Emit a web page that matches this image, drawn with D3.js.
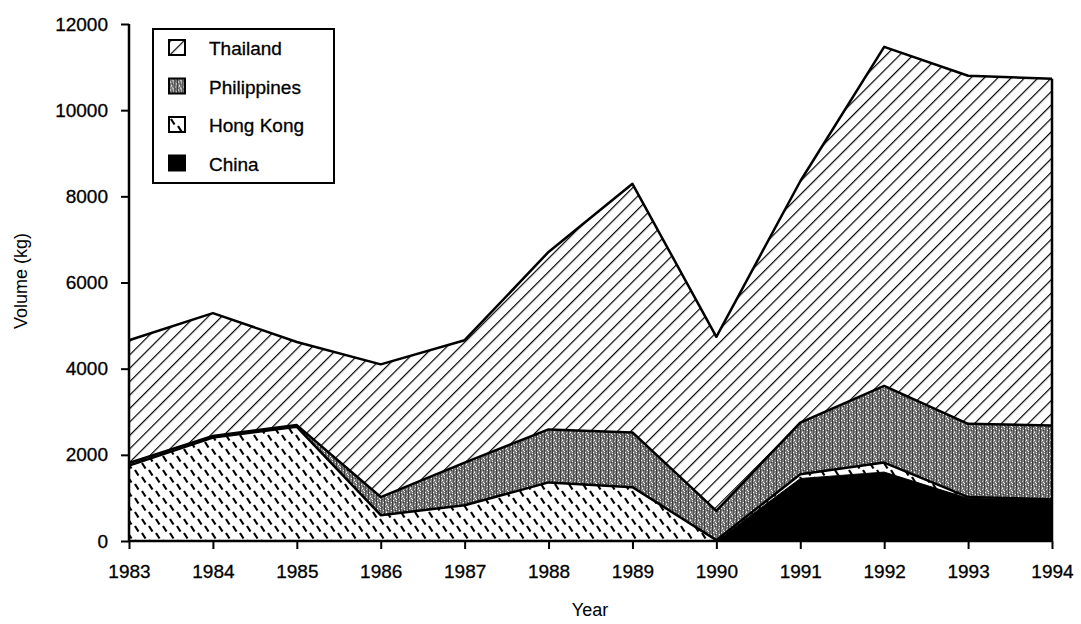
<!DOCTYPE html>
<html lang="en">
<head>
    <meta charset="UTF-8">
    <title>Volume by origin, 1983-1994</title>
    <script src="https://d3js.org/d3.v7.min.js"></script>
    <style>
        body { margin: 0; background: #fff; }
        text { font-family: "Liberation Sans", Arial, sans-serif; fill: #000; }
        .tick text, .legend text { font-size: 19px; stroke: #000; stroke-width: 0.3px; }
        .title { font-size: 18px; }
    </style>
</head>
<body>
    <svg id="chart"></svg>

    <script>
        // values (kg)
        const years = [1983, 1984, 1985, 1986, 1987, 1988, 1989, 1990, 1991, 1992, 1993, 1994];
        const china = [0, 0, 0, 0, 0, 0, 0, 0, 1450, 1600, 990, 950];
        const hongKong = [1750, 2400, 2650, 600, 830, 1360, 1250, 20, 100, 220, 30, 20];
        const philippines = [60, 40, 40, 420, 990, 1230, 1270, 680, 1200, 1780, 1700, 1710];
        const thailand = [2850, 2850, 1930, 3080, 2840, 4120, 5770, 4040, 5600, 7870, 8080, 8050];
        const yTicks = [0, 2000, 4000, 6000, 8000, 10000, 12000];

        const series = ["China", "Hong Kong", "Philippines", "Thailand"];
        const rows = years.map((y, i) => ({
            year: y, "China": china[i], "Hong Kong": hongKong[i],
            "Philippines": philippines[i], "Thailand": thailand[i]
        }));

        const width = 1081, height = 624;
        const svg = d3.select("#chart").attr("width", width).attr("height", height);
        const defs = svg.append("defs");

        // Thailand: diagonal hatching
        const pThai = defs.append("pattern").attr("id", "p-thai")
            .attr("patternUnits", "userSpaceOnUse").attr("width", 9.5).attr("height", 10)
            .attr("patternTransform", "rotate(45)");
        pThai.append("rect").attr("width", 9.5).attr("height", 10).attr("fill", "#fff");
        pThai.append("line").attr("x1", 0).attr("y1", 0).attr("x2", 0).attr("y2", 10)
            .attr("stroke", "#000").attr("stroke-width", 2.4);

        // Philippines: grey stipple with faint vertical streaks
        const pPhil = defs.append("pattern").attr("id", "p-phil")
            .attr("patternUnits", "userSpaceOnUse").attr("width", 8).attr("height", 8);
        pPhil.append("rect").attr("width", 8).attr("height", 8).attr("fill", "#7a7a7a");
        pPhil.append("rect").attr("x", 0).attr("width", 1).attr("height", 8).attr("fill", "#3c3c3c");
        pPhil.append("rect").attr("x", 5).attr("width", 1).attr("height", 8).attr("fill", "#555");
        [[2, 0, "#fff"], [3, 2, "#eee"], [6, 1, "#ccc"], [1, 4, "#fff"], [4, 5, "#ddd"], [7, 6, "#fff"],
         [2, 7, "#bbb"], [6, 3, "#444"], [3, 6, "#333"], [7, 0, "#999"], [4, 3, "#fff"], [1, 1, "#aaa"]]
            .forEach(([x, y, c]) => pPhil.append("rect").attr("x", x).attr("y", y)
                .attr("width", 1).attr("height", 1).attr("fill", c));

        // Hong Kong: short dashes in a lattice
        const pHK = defs.append("pattern").attr("id", "p-hk")
            .attr("patternUnits", "userSpaceOnUse").attr("width", 14).attr("height", 14);
        pHK.append("rect").attr("width", 14).attr("height", 14).attr("fill", "#fff");
        pHK.append("line").attr("x1", 2).attr("y1", 1).attr("x2", 5.5).attr("y2", 6.5)
            .attr("stroke", "#000").attr("stroke-width", 2.2);
        pHK.append("line").attr("x1", 9).attr("y1", 8).attr("x2", 12.5).attr("y2", 13.5)
            .attr("stroke", "#000").attr("stroke-width", 2.2);

        const fills = { "China": "#000", "Hong Kong": "url(#p-hk)", "Philippines": "url(#p-phil)", "Thailand": "url(#p-thai)" };

        const x = d3.scaleLinear().domain([1983, 1994]).range([129, 1052]);
        const y = d3.scaleLinear().domain([0, 12000]).range([541, 24]);

        const stacked = d3.stack().keys(series)(rows);
        const area = d3.area().x(d => x(d.data.year)).y0(d => y(d[0])).y1(d => y(d[1]));
        const topLine = d3.line().x(d => x(d.data.year)).y(d => y(d[1]));

        svg.append("g").selectAll("path").data(stacked).join("path")
            .attr("d", area).attr("fill", d => fills[d.key]);

        svg.append("g").selectAll("path").data(stacked).join("path")
            .attr("d", topLine).attr("fill", "none").attr("stroke", "#000")
            .attr("stroke-width", d => d.key === "China" ? 1 : 2.5)
            .attr("stroke-linejoin", "round");

        // right edge of the filled block
        svg.append("line").attr("x1", x(1994)).attr("x2", x(1994))
            .attr("y1", y(0)).attr("y2", y(d3.sum(series, k => rows[rows.length - 1][k])))
            .attr("stroke", "#000").attr("stroke-width", 2.5);

        // axes
        const xAxis = svg.append("g").attr("transform", `translate(0,${y(0)})`)
            .call(d3.axisBottom(x).tickValues(years).tickFormat(d3.format("d")).tickSize(8).tickPadding(16));
        const yAxis = svg.append("g").attr("transform", `translate(${x(1983)},0)`)
            .call(d3.axisLeft(y).tickValues(yTicks).tickSize(8).tickPadding(13).tickFormat(d3.format("d")));
        [xAxis, yAxis].forEach(g => {
            g.select(".domain").attr("stroke-width", 2.5);
            g.selectAll(".tick line").attr("stroke-width", 2);
            g.selectAll(".tick text").attr("font-family", null).attr("font-size", null);
        });
        xAxis.select(".domain").attr("d", `M${x(1983)},0H${x(1994)}`);
        yAxis.select(".domain").attr("d", `M0,${y(0)}V${y(12000)}`);

        svg.append("text").attr("class", "title").attr("x", 590).attr("y", 616)
            .attr("text-anchor", "middle").text("Year");
        svg.append("text").attr("class", "title").attr("transform", "translate(27,281) rotate(-90)")
            .attr("text-anchor", "middle").text("Volume (kg)");

        // legend
        const legend = svg.append("g").attr("class", "legend");
        legend.append("rect").attr("x", 153).attr("y", 29).attr("width", 181).attr("height", 154)
            .attr("fill", "#fff").attr("stroke", "#000").attr("stroke-width", 2);
        const legendOrder = ["Thailand", "Philippines", "Hong Kong", "China"];
        const item = legend.selectAll("g.item").data(legendOrder).join("g")
            .attr("class", "item").attr("transform", (d, i) => `translate(169,${55 + i * 38.5})`);
        item.append("rect").attr("y", -15).attr("width", 16).attr("height", 15)
            .attr("fill", d => fills[d]).attr("stroke", "#000").attr("stroke-width", 2);
        item.append("text").attr("x", 40).attr("y", 0).text(d => d);
    </script>
</body>
</html>
